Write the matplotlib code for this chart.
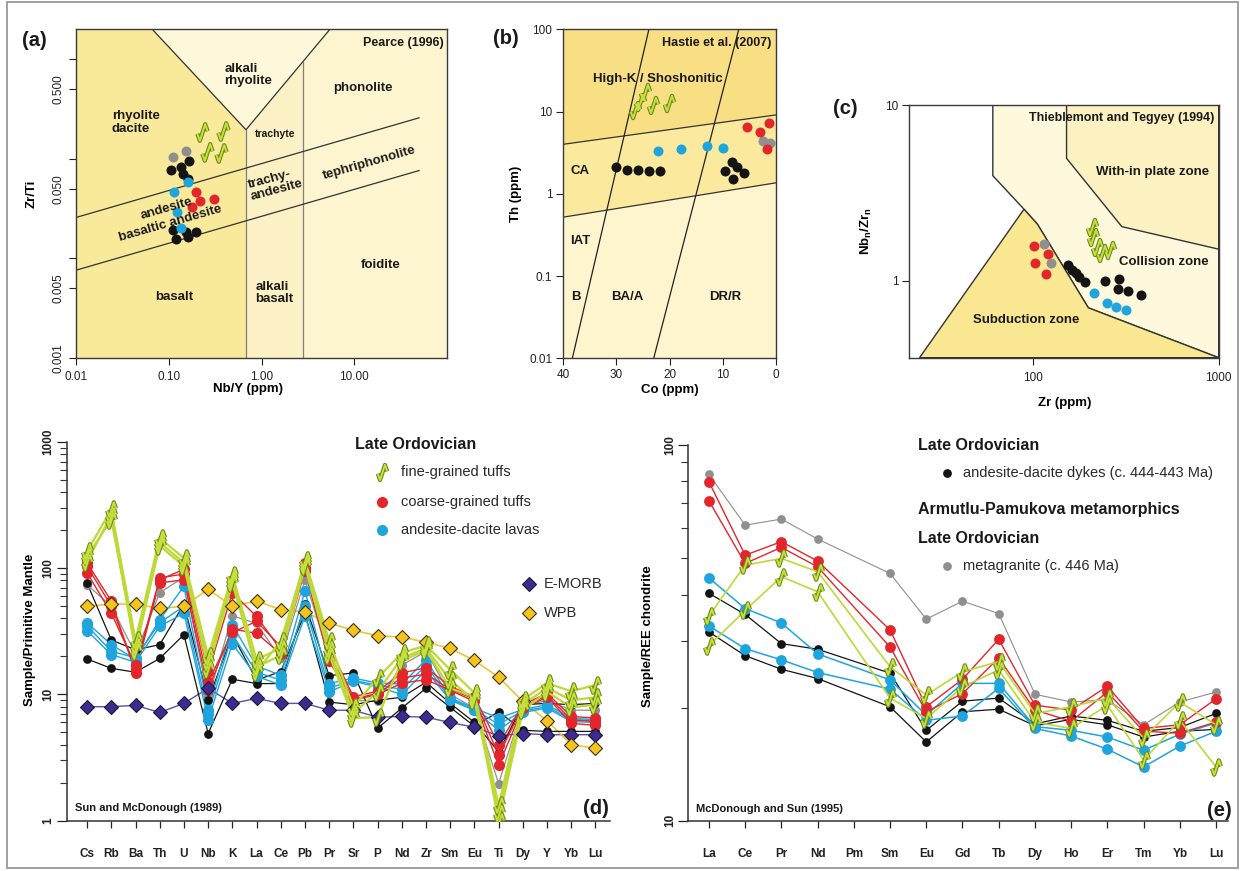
import numpy as np
import matplotlib
matplotlib.use('Agg')
import matplotlib.pyplot as plt
from matplotlib.path import Path
from matplotlib.patches import Polygon, Rectangle
from matplotlib.ticker import FixedLocator, NullLocator, NullFormatter, FixedFormatter, LogLocator

plt.rcParams['font.family'] = ['Liberation Sans', 'DejaVu Sans']
plt.rcParams['axes.linewidth'] = 1.0

nan = np.nan

# ---------------- (a) Pearce (1996) Zr/Ti vs Nb/Y ----------------
a_black_nby = [0.107, 0.136, 0.165, 0.144, 0.160, 0.111, 0.120, 0.152, 0.160, 0.195]
a_black_zrti = [0.0764, 0.0832, 0.094, 0.0697, 0.0621, 0.0192, 0.0155, 0.0182, 0.0163, 0.0182]
a_gray_nby = [0.112, 0.153]
a_gray_zrti = [0.103, 0.120]
a_blue_nby = [0.162, 0.113, 0.123, 0.134]
a_blue_zrti = [0.0589, 0.0464, 0.0295, 0.0200]
a_red_nby = [0.196, 0.217, 0.178, 0.310]
a_red_zrti = [0.046, 0.0378, 0.0329, 0.0395]
a_tuff_nby = [0.226, 0.380, 0.256, 0.366]
a_tuff_zrti = [0.186, 0.190, 0.118, 0.114]

# ---------------- (b) Hastie et al. (2007) Th vs Co ----------------
b_tuff_co = [26.5, 25.6, 24.6, 23.2, 20.1]
b_tuff_th = [10.4, 13.2, 17.4, 12.0, 12.6]
b_red_co = [5.4, 3.0, 1.3, 1.6]
b_red_th = [6.5, 5.6, 7.3, 3.5]
b_gray_co = [2.5, 1.1]
b_gray_th = [4.4, 4.1]
b_blue_co = [22.1, 17.9, 12.9, 10.0]
b_blue_th = [3.34, 3.53, 3.81, 3.57]
b_black_co = [30.1, 28.1, 25.9, 23.9, 21.8, 8.3, 7.4, 9.5, 6.1, 8.1]
b_black_th = [2.12, 1.96, 1.93, 1.91, 1.89, 2.41, 2.14, 1.91, 1.79, 1.51]

# ---------------- (c) Thieblemont & Tegyey (1994) ----------------
c_red_zr = [101, 119.6, 101.9, 117.5]
c_red_nbzr = [1.576, 1.42, 1.266, 1.09]
c_gray_zr = [114.7, 124.5]
c_gray_nbzr = [1.62, 1.266]
c_black_zr = [153, 161, 170, 177, 190, 244, 291, 287, 325, 381]
c_black_nbzr = [1.22, 1.15, 1.10, 1.054, 0.979, 1.0, 1.027, 0.893, 0.874, 0.829]
c_blue_zr = [213, 249, 278, 316]
c_blue_nbzr = [0.848, 0.743, 0.711, 0.681]
c_tuff_zr = [206, 211, 220, 234, 259]
c_tuff_nbzr = [2.03, 1.78, 1.56, 1.43, 1.50]

# ---------------- (d) Primitive-mantle normalised spider ----------------
pm_elements = ['Cs', 'Rb', 'Ba', 'Th', 'U', 'Nb', 'K', 'La', 'Ce', 'Pb', 'Pr',
               'Sr', 'P', 'Nd', 'Zr', 'Sm', 'Eu', 'Ti', 'Dy', 'Y', 'Yb', 'Lu']
d_fine_tuffs = [
    [136, 292, 27, 174, 120, 20, 89, 18.9, 23.3, 116, 26.7, 8.0, 13.5, 21.3, 24.5, 15.7, 10.3, 1.32, 9.1, 12.3, 10.6, 11.9],
    [124, 243, 24, 150, 104, 16, 76, 16.4, 20.5, 104, 20.7, 6.5, 6.6, 18.5, 22.4, 11.2, 9.5, 1.0, 7.5, 10.5, 7.9, 8.3],
    [112, 265, 22, 160, 110, 18, 82, 15.2, 26.5, 110, 23.0, 7.1, 10.5, 19.5, 23.2, 13.0, 9.0, 1.15, 8.3, 11.3, 9.0, 9.5],
]
d_coarse_tuffs = [
    [110, 55, 14.8, 81, 98, 15, 64, 41.5, 22.6, 110, 24, 9.6, 10.6, 14.8, 16.3, 11.6, 9.6, 4.0, 8.3, 10.2, 6.7, 6.5],
    [92, 44, 17, 76.5, 81, 10.9, 33, 30.5, 21, 95, 18.3, 9.0, 10.0, 12.3, 13.1, 10.8, 8.8, 2.75, 7.8, 9.5, 5.9, 5.7],
    [104, 50, 16, 84, 90, 12.5, 31, 38, 24, 100, 21, 9.2, 10.2, 13.5, 14.5, 11, 9.2, 3.3, 8.0, 9.8, 6.3, 6.1],
]
d_lavas = [
    [37, 24.8, 19, 39, 72, 7.6, 35.6, 16.8, 14.2, 66, 12.2, 13.5, 12.3, 12.1, 18.8, 9.4, 7.8, 6.5, 7.6, 8.3, 6.5, 6.3],
    [32, 20.7, 18, 34.7, 44, 6.3, 25.2, 13.9, 11.9, 42, 10.5, 12.7, 11.5, 10.0, 15.5, 9.0, 7.5, 5.2, 7.2, 7.8, 6.1, 6.0],
    [35, 22, 19.5, 37, 50, 7.0, 30, 15, 13, 50, 11.2, 13, 11.8, 11, 17, 9.2, 7.6, 5.8, 7.4, 8.0, 6.3, 6.2],
]
d_dykes = [
    [19.1, 16.1, 15, 19.3, 29.8, 4.9, 13.2, 12.2, 12.2, 52, 14.1, 14.8, 5.4, 7.8, 11.2, 7.9, 5.6, 7.3, 5.2, 5.1, 5.1, 5.1],
    [76, 27, 22.6, 24.8, 52, 9.0, 29.8, 13.0, 15.2, 44, 8.7, 8.3, 9.0, 9.5, 12.5, 8.5, 6.0, 3.5, 8.3, 8.5, 8.3, 8.5],
]
d_metagranite = [
    [74, 50, 21, 64, 85, 9.3, 42, 36.5, 19.3, 81, 20, 9.0, 8.8, 17, 22, 10, 7.8, 1.97, 8.0, 9.0, 7.5, 7.5],
]
d_emorb = [8.0, 8.0, 8.2, 7.2, 8.5, 11.2, 8.5, 9.3, 8.5, 8.5, 7.5, 7.5, 6.6, 6.7, 6.6, 6.0, 5.5, 4.7, 4.9, 4.8, 4.8, 4.8]
d_wpb = [50, 52, 52, 48, 50, 68, 50, 55, 47, 45, 36.8, 32.2, 29.2, 28.5, 25.9, 23.2, 18.6, 13.7, 8.8, 6.2, 4.0, 3.75]

# ---------------- (e) Chondrite-normalised REE ----------------
ree_elements = ['La', 'Ce', 'Pr', 'Nd', 'Pm', 'Sm', 'Eu', 'Gd', 'Tb', 'Dy', 'Ho', 'Er', 'Tm', 'Yb', 'Lu']
e_metagranite = [[83.5, 61.2, 63.5, 56.2, nan, 45.5, 34.4, 38.4, 35.6, 21.7, 20.7, 21.0, 18.0, 20.7, 22.0]]
e_coarse_tuffs = [
    [79.8, 50.9, 55.3, 49.1, nan, 32.2, 20.1, 23.8, 30.4, 20.3, 19.7, 22.8, 17.6, 18.0, 21.1],
    [71.0, 48.4, 53.4, 47.4, nan, 29.0, 19.5, 21.8, 27.1, 19.7, 18.4, 22.0, 17.3, 17.1, 18.3],
]
e_fine_tuffs = [
    [35.1, 47.9, 49.9, 46.0, nan, 25.7, 21.6, 24.9, 26.5, 19.3, 20.1, 21.2, 16.6, 20.7, 18.0],
    [29.2, 36.3, 44.6, 40.7, nan, 21.2, 18.7, 22.7, 25.2, 18.3, 17.6, 20.3, 14.5, 18.5, 13.9],
]
e_lavas = [
    [44.3, 36.7, 33.6, 27.8, nan, 23.7, 19.1, 23.2, 23.2, 17.8, 17.4, 16.7, 15.4, 17.0, 18.2],
    [33.0, 28.7, 26.8, 24.8, nan, 22.4, 18.5, 19.0, 22.5, 17.6, 16.8, 15.5, 13.9, 15.8, 17.3],
]
e_dykes = [
    [40.3, 35.4, 29.6, 28.6, nan, 24.7, 17.4, 20.8, 21.2, 18.1, 19.0, 18.5, 17.3, 17.7, 19.3],
    [31.8, 27.5, 25.3, 23.9, nan, 20.1, 16.2, 19.5, 19.8, 17.9, 18.6, 18.0, 16.7, 17.3, 17.5],
]

# ================= styling =================
RED = '#E3262B'
BLUE = '#1EA5DE'
BLACK = '#141414'
GRAY = '#8F8F8F'
LIME = '#C8E03C'
LIME_E = '#6A8A1C'
LIME_L = '#BED835'
PURPLE = '#3B2C8E'
PURPLE_L = '#5B4FB2'
GOLD = '#F6C41F'
GOLD_L = '#EFC534'

ZIG = Path([(-0.62, -0.15), (-0.32, -1.0), (0.0, 0.0), (0.32, 1.0), (0.62, 0.15)])

W, H = 1243, 871
fig = plt.figure(figsize=(W / 100, H / 100), dpi=100)


def add_ax(l, t, r, b):
    return fig.add_axes([l / W, 1 - b / H, (r - l) / W, (b - t) / H])


def tuff(ax, x, y, ms=11, z=6):
    ax.plot(x, y, ls='none', marker=ZIG, ms=ms, mfc='none', mec=LIME_E, mew=3.0, zorder=z)
    ax.plot(x, y, ls='none', marker=ZIG, ms=ms, mfc='none', mec=LIME, mew=1.4, zorder=z + 0.01)


def dots(ax, x, y, c, ms=7.2, z=5):
    ax.plot(x, y, ls='none', marker='o', ms=ms, mfc=c, mec='none', zorder=z)


def frame(ax):
    for s in ax.spines.values():
        s.set_color('#3a3a3a')
        s.set_linewidth(1.0)
        s.set_zorder(8)
    ax.tick_params(direction='out', length=5, width=0.8, labelsize=8.5, colors='#222')


def atext(ax, fx, fy, s, ha='center', size=9.5, rot=0, weight='bold'):
    ax.text(fx, fy, s, transform=ax.transAxes, ha=ha, va='center', fontsize=size,
            fontweight=weight, rotation=rot, color='#1a1a1a', zorder=7, linespacing=1.05)


LINE_C = '#333333'

# ================= (a) =================
axA = add_ax(76, 29, 447, 358)
axA.set_xscale('log'); axA.set_yscale('log')
axA.set_facecolor('#FDF5D0')
axA.add_patch(Polygon([(0.01, 0.001), (0.68, 0.001), (0.68, 0.195), (0.066, 2), (0.01, 2)],
                      closed=True, fc='#F9E99B', ec='none', zorder=0))
axA.add_patch(Polygon([(0.68, 0.001), (2.8, 0.001), (2.8, 0.93), (0.68, 0.195)],
                      closed=True, fc='#FCF1C4', ec='none', zorder=0))
axA.add_patch(Polygon([(0.066, 2), (0.68, 0.195), (5.5, 2)],
                      closed=True, fc='#FEF8DB', ec='none', zorder=0))
axA.plot([0.066, 0.68, 5.5], [2, 0.195, 2], color=LINE_C, lw=0.9, zorder=1)
axA.plot([0.68, 0.68], [0.195, 0.001], color='#808080', lw=0.9, zorder=1)
axA.plot([2.8, 2.8], [0.93, 0.001], color='#808080', lw=0.9, zorder=1)
axA.plot([0.01, 50], [0.0257, 0.257], color=LINE_C, lw=0.9, zorder=1)
axA.plot([0.01, 50], [0.0076, 0.076], color=LINE_C, lw=0.9, zorder=1)

dots(axA, a_black_nby, a_black_zrti, BLACK)
dots(axA, a_gray_nby, a_gray_zrti, GRAY)
dots(axA, a_blue_nby, a_blue_zrti, BLUE)
dots(axA, a_red_nby, a_red_zrti, RED)
tuff(axA, a_tuff_nby, a_tuff_zrti, ms=12)

axA.set_xlim(0.01, 100); axA.set_ylim(0.001, 2)
axA.xaxis.set_major_locator(FixedLocator([0.01, 0.1, 1, 10]))
axA.xaxis.set_major_formatter(FixedFormatter(['0.01', '0.10', '1.00', '10.00']))
axA.xaxis.set_minor_locator(NullLocator())
axA.yaxis.set_major_locator(FixedLocator([0.001, 0.005, 0.01, 0.05, 0.1, 0.5, 1]))
axA.yaxis.set_major_formatter(FixedFormatter(['0.001', '0.005', '', '0.050', '', '0.500', '']))
axA.yaxis.set_minor_locator(NullLocator())
frame(axA)
axA.tick_params(axis='y', labelrotation=90, pad=3)
axA.tick_params(axis='x', pad=4)
for t in axA.get_yticklabels():
    t.set_va('center')

atext(axA, 0.99, 0.958, 'Pearce (1996)', ha='right', size=9)
atext(axA, 0.40, 0.860, 'alkali\nrhyolite', ha='left')
atext(axA, 0.774, 0.820, 'phonolite')
atext(axA, 0.097, 0.716, 'rhyolite\ndacite', ha='left')
atext(axA, 0.536, 0.681, 'trachyte', size=7.5)
axA.text(0.538, 0.529, 'trachy-\nandesite', transform=axA.transAxes, ha='center', va='center',
         fontsize=9.5, fontweight='bold', rotation=15, color='#1a1a1a', zorder=7,
         multialignment='left', linespacing=1.05)
axA.text(0.792, 0.594, 'tephriphonolite', transform=axA.transAxes, ha='center', va='center',
         fontsize=9.5, fontweight='bold', rotation=16, color='#1a1a1a', zorder=7)
axA.text(0.244, 0.455, 'andesite', transform=axA.transAxes, ha='center', va='center',
         fontsize=9.5, fontweight='bold', rotation=16, color='#1a1a1a', zorder=7)
axA.text(0.255, 0.409, 'basaltic andesite', transform=axA.transAxes, ha='center', va='center',
         fontsize=9.5, fontweight='bold', rotation=16, color='#1a1a1a', zorder=7)
atext(axA, 0.821, 0.283, 'foidite')
atext(axA, 0.264, 0.186, 'basalt')
atext(axA, 0.484, 0.197, 'alkali\nbasalt', ha='left')

axA.set_xlabel('Nb/Y (ppm)', fontsize=9.5, fontweight='bold')
axA.xaxis.set_label_coords(0.4636, -0.094)
axA.xaxis.label.set_va('center')
axA.set_ylabel('Zr/Ti', fontsize=9.5, fontweight='bold')
axA.yaxis.set_label_coords(-0.119, 0.50)
axA.yaxis.label.set_va('center'); axA.yaxis.label.set_ha('center')

# ================= (b) =================
axB = add_ax(563.3, 29.3, 776, 358.3)
axB.set_yscale('log')
axB.set_facecolor('#FEF5CE')
axB.add_patch(Polygon([(40, 4.0), (0, 9.1), (0, 100), (40, 100)], closed=True, fc='#F9DF84', ec='none', zorder=0))
axB.add_patch(Polygon([(40, 0.52), (0, 1.36), (0, 9.1), (40, 4.0)], closed=True, fc='#FBEA9E', ec='none', zorder=0))
axB.plot([40, 0], [4.0, 9.1], color=LINE_C, lw=0.9, zorder=1)
axB.plot([40, 0], [0.52, 1.36], color=LINE_C, lw=0.9, zorder=1)
axB.plot([38.3, 23.9], [0.01, 100], color='#222', lw=0.9, zorder=1)
axB.plot([23.0, 7.0], [0.01, 100], color='#222', lw=0.9, zorder=1)

dots(axB, b_black_co, b_black_th, BLACK)
dots(axB, b_gray_co, b_gray_th, GRAY)
dots(axB, b_blue_co, b_blue_th, BLUE)
dots(axB, b_red_co, b_red_th, RED)
tuff(axB, b_tuff_co, b_tuff_th, ms=11)

axB.set_xlim(40, 0); axB.set_ylim(0.01, 100)
axB.xaxis.set_major_locator(FixedLocator([40, 30, 20, 10, 0]))
axB.yaxis.set_major_locator(FixedLocator([0.01, 0.1, 1, 10, 100]))
axB.yaxis.set_major_formatter(FixedFormatter(['0.01', '0.1', '1', '10', '100']))
axB.yaxis.set_minor_locator(NullLocator())
frame(axB)
axB.tick_params(axis='both', pad=3)

atext(axB, 0.98, 0.959, 'Hastie et al. (2007)', ha='right', size=9)
atext(axB, 0.138, 0.849, 'High-K / Shoshonitic', ha='left', size=9.5)
atext(axB, 0.0315, 0.570, 'CA', ha='left')
atext(axB, 0.0315, 0.357, 'IAT', ha='left')
atext(axB, 0.036, 0.187, 'B', ha='left')
atext(axB, 0.227, 0.187, 'BA/A', ha='left')
atext(axB, 0.686, 0.187, 'DR/R', ha='left')

axB.set_xlabel('Co (ppm)', fontsize=9.5, fontweight='bold')
axB.xaxis.set_label_coords(0.50, -0.096)
axB.xaxis.label.set_va('center')
axB.set_ylabel('Th (ppm)', fontsize=9.5, fontweight='bold')
axB.yaxis.set_label_coords(-0.224, 0.50)
axB.yaxis.label.set_va('center'); axB.yaxis.label.set_ha('center')

# ================= (c) =================
axC = add_ax(909.3, 105, 1218.7, 357.7)
axC.set_xscale('log'); axC.set_yscale('log')
axC.set_facecolor('white')
axC.add_patch(Polygon([(60.4, 10), (1000, 10), (1000, 0.364), (198, 0.70), (105, 2.1), (89, 2.55), (60.4, 3.96)],
                      closed=True, fc='#FEF8DD', ec=LINE_C, lw=1.0, zorder=0))
axC.add_patch(Polygon([(151, 10), (1000, 10), (1000, 1.51), (300, 2.03), (151, 4.97)],
                      closed=True, fc='#FCF1C1', ec=LINE_C, lw=1.0, zorder=0.5))
axC.add_patch(Polygon([(24.3, 0.364), (89, 2.55), (105, 2.1), (198, 0.70), (1000, 0.364)],
                      closed=True, fc='#F9E891', ec=LINE_C, lw=1.0, zorder=0.6))

dots(axC, c_black_zr, c_black_nbzr, BLACK)
dots(axC, c_blue_zr, c_blue_nbzr, BLUE)
dots(axC, c_red_zr, c_red_nbzr, RED)
dots(axC, c_gray_zr, c_gray_nbzr, GRAY)
tuff(axC, c_tuff_zr, c_tuff_nbzr, ms=11)

axC.set_xlim(21.4, 1000); axC.set_ylim(0.364, 10)
axC.xaxis.set_major_locator(FixedLocator([100, 1000]))
axC.xaxis.set_major_formatter(FixedFormatter(['100', '1000']))
axC.xaxis.set_minor_locator(NullLocator())
axC.yaxis.set_major_locator(FixedLocator([1, 10]))
axC.yaxis.set_major_formatter(FixedFormatter(['1', '10']))
axC.yaxis.set_minor_locator(NullLocator())
frame(axC)
axC.tick_params(axis='x', pad=5)
axC.tick_params(axis='y', pad=3)

atext(axC, 0.986, 0.95, 'Thieblemont and Tegyey (1994)', ha='right', size=9)
atext(axC, 0.786, 0.734, 'With-in plate zone')
atext(axC, 0.822, 0.378, 'Collision zone')
atext(axC, 0.378, 0.149, 'Subduction zone')

axC.set_xlabel('Zr (ppm)', fontsize=9.5, fontweight='bold')
axC.xaxis.set_label_coords(0.503, -0.178)
axC.xaxis.label.set_va('center')
axC.set_ylabel(r'Nb$_\mathregular{n}$/Zr$_\mathregular{n}$', fontsize=9.5, fontweight='bold')
axC.yaxis.set_label_coords(-0.138, 0.50)
axC.yaxis.label.set_va('center'); axC.yaxis.label.set_ha('center')


# ================= (d) & (e) helpers =================
def spider_axes(ax, labels, ylo, yhi, major):
    ax.set_yscale('log')
    for s in ['top', 'right']:
        ax.spines[s].set_visible(False)
    for s in ['left', 'bottom']:
        ax.spines[s].set_color('#333')
        ax.spines[s].set_linewidth(1.1)
    ax.set_xticks(np.arange(len(labels)))
    ax.set_xticklabels(labels, fontweight='bold', fontsize=8.5)
    ax.set_ylim(ylo, yhi)
    ax.yaxis.set_major_locator(FixedLocator(major))
    ax.yaxis.set_major_formatter(FixedFormatter([str(int(m)) for m in major]))
    ax.yaxis.set_minor_locator(LogLocator(base=10, subs=np.arange(2, 10)))
    ax.yaxis.set_minor_formatter(NullFormatter())
    ax.tick_params(axis='x', direction='out', length=5, width=0.9, pad=15, colors='#222')
    ax.tick_params(axis='y', which='major', direction='out', length=7, width=0.9, pad=2,
                   labelsize=8.5, labelrotation=90, colors='#222')
    ax.tick_params(axis='y', which='minor', direction='out', length=5, width=0.8, colors='#333')
    for t in ax.get_yticklabels():
        t.set_fontweight('bold'); t.set_va('center')


def series(ax, x, rows, color, kind, lw=1.0, ms=6.5, z=3):
    for r in rows:
        r = np.asarray(r, float)
        m = ~np.isnan(r)
        if kind == 'tuff':
            ax.plot(x[m], r[m], color=LIME_L, lw=1.6, zorder=z + 1)
        else:
            ax.plot(x[m], r[m], color=color, lw=lw, zorder=z)
    for r in rows:
        r = np.asarray(r, float)
        m = ~np.isnan(r)
        if kind == 'tuff':
            tuff(ax, x[m], r[m], ms=10.5, z=z + 3)
        else:
            dots(ax, x[m], r[m], color, ms=ms, z=z + 1)


# ================= (d) =================
axD = add_ax(67, 442, 610, 820.7)
xD = np.arange(len(pm_elements))
axD.plot(xD, d_emorb, color=PURPLE_L, lw=1.0, zorder=1.5)
axD.plot(xD, d_wpb, color=GOLD_L, lw=1.2, zorder=1.5)
series(axD, xD, d_metagranite, GRAY, 'dot', lw=0.9, ms=6.5)
series(axD, xD, d_dykes, BLACK, 'dot', lw=0.9, ms=6.3)
series(axD, xD, d_lavas, BLUE, 'dot', lw=1.0, ms=8)
series(axD, xD, d_coarse_tuffs, RED, 'dot', lw=1.0, ms=8)
series(axD, xD, d_fine_tuffs, LIME, 'tuff')
axD.plot(xD, d_emorb, ls='none', marker='D', ms=7.5, mfc=PURPLE, mec='#1b1640', mew=0.8, zorder=4.5)
axD.plot(xD, d_wpb, ls='none', marker='D', ms=7.5, mfc=GOLD, mec='#3f3300', mew=0.8, zorder=4.5)
axD.set_xlim(-0.83, 21.6)
spider_axes(axD, pm_elements, 1, 1000, [1, 10, 100, 1000])
axD.set_ylabel('Sample/Primitive Mantle', fontsize=9.5, fontweight='bold')
axD.yaxis.set_label_coords(-0.068, 0.5036)
axD.yaxis.label.set_va('center'); axD.yaxis.label.set_ha('center')

# ================= (e) =================
axE = add_ax(688.3, 445, 1228, 820.7)
xE = np.arange(len(ree_elements))
series(axE, xE, e_metagranite, GRAY, 'dot', lw=0.8, ms=6.3)
series(axE, xE, e_dykes, BLACK, 'dot', lw=0.9, ms=6.3)
series(axE, xE, e_lavas, BLUE, 'dot', lw=1.1, ms=7.8)
series(axE, xE, e_coarse_tuffs, RED, 'dot', lw=1.0, ms=7.8)
for r in e_fine_tuffs:
    r = np.asarray(r, float); m = ~np.isnan(r)
    axE.plot(xE[m], r[m], color=LIME_L, lw=1.2, zorder=4)
    tuff(axE, xE[m], r[m], ms=10.5, z=6)
axE.set_xlim(-0.57, 14.33)
spider_axes(axE, ree_elements, 10, 100, [10, 100])
axE.set_ylabel('Sample/REE chondrite', fontsize=9.5, fontweight='bold')
axE.yaxis.set_label_coords(-0.074, 0.49)
axE.yaxis.label.set_va('center'); axE.yaxis.label.set_ha('center')

# ================= overlay: letters, legends, notes, frame =================
ov = fig.add_axes([0, 0, 1, 1], zorder=10)
ov.set_xlim(0, W); ov.set_ylim(H, 0); ov.axis('off'); ov.patch.set_alpha(0)

ov.add_patch(Rectangle((7, 2), 1231, 866, fill=False, ec='#9a9a9a', lw=1.3))

for x, y, s, ha in [(22, 41, '(a)', 'left'), (493, 38, '(b)', 'left'), (833, 109, '(c)', 'left'),
                    (609, 808, '(d)', 'right'), (1232, 810, '(e)', 'right')]:
    ov.text(x, y, s, ha=ha, va='center', fontsize=14.5, fontweight='bold', color='#1a1a1a')

ov.text(75, 808, 'Sun and McDonough (1989)', ha='left', va='center', fontsize=8, fontweight='bold', color='#1a1a1a')
ov.text(696, 809, 'McDonough and Sun (1995)', ha='left', va='center', fontsize=8, fontweight='bold', color='#1a1a1a')

# legend (d)
ov.text(355, 444, 'Late Ordovician', ha='left', va='center', fontsize=11.5, fontweight='bold', color='#1a1a1a')
tuff(ov, [382], [472], ms=11)
dots(ov, [382], [502], RED, ms=8)
dots(ov, [382], [529.5], BLUE, ms=8)
for y, s in [(472, 'fine-grained tuffs'), (502, 'coarse-grained tuffs'), (529.5, 'andesite-dacite lavas')]:
    ov.text(401, y, s, ha='left', va='center', fontsize=10.5, color='#2a2a2a')
ov.plot([529], [584], ls='none', marker='D', ms=7.5, mfc=PURPLE, mec='#1b1640', mew=0.8)
ov.plot([529], [613], ls='none', marker='D', ms=7.5, mfc=GOLD, mec='#3f3300', mew=0.8)
ov.text(544, 584, 'E-MORB', ha='left', va='center', fontsize=10.5, color='#2a2a2a')
ov.text(544, 613, 'WPB', ha='left', va='center', fontsize=10.5, color='#2a2a2a')

# legend (e)
ov.text(918, 445, 'Late Ordovician', ha='left', va='center', fontsize=11.5, fontweight='bold', color='#1a1a1a')
dots(ov, [947], [472.5], BLACK, ms=6.3)
ov.text(963.5, 472.5, 'andesite-dacite dykes (c. 444-443 Ma)', ha='left', va='center', fontsize=10.5, color='#2a2a2a')
ov.text(918, 509.5, 'Armutlu-Pamukova metamorphics', ha='left', va='center', fontsize=11.5, fontweight='bold', color='#1a1a1a')
ov.text(918, 538.5, 'Late Ordovician', ha='left', va='center', fontsize=11.5, fontweight='bold', color='#1a1a1a')
dots(ov, [947], [565.5], GRAY, ms=6.3)
ov.text(963.5, 565.5, 'metagranite (c. 446 Ma)', ha='left', va='center', fontsize=10.5, color='#2a2a2a')

fig.savefig('out.png', dpi=100)
